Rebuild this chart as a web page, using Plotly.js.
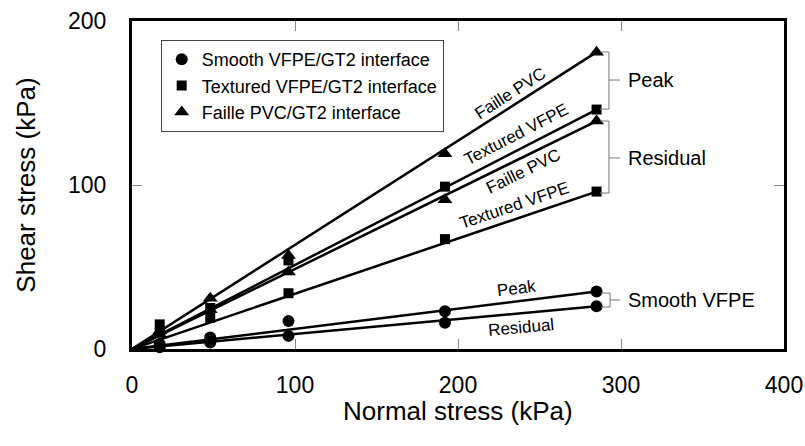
<!DOCTYPE html>
<html>
<head>
<meta charset="utf-8">
<script src="https://cdn.plot.ly/plotly-3.0.1.min.js"></script>
<style>html,body{margin:0;padding:0;background:#fff;}#chart{width:805px;height:446px;}</style>
</head>
<body>
<div id="chart"></div>
<script>
// Normal stress (kPa) of the test points
const normalStress = [17, 48, 96, 192, 285];

// Shear stress (kPa)
const smoothPeak      = [3, 7, 17, 23, 35];
const smoothResidual  = [1, 4, 8, 16, 26];
const texturedPeak    = [15, 25, 54, 99, 146];
const texturedResidual= [10, 19, 34, 67, 96];
const faillePeak      = [11, 31, 57, 119, 181];
const failleResidual  = [9, 24, 47, 91, 139];

// Fitted lines through the origin: end points
const fitX = [0, 285];
const fitSmoothPeak = [0, 35];
const fitSmoothResidual = [0, 26];
const fitTexturedPeak = [0, 146];
const fitTexturedResidual = [0, 96];
const fitFaillePeak = [0, 181];
const fitFailleResidual = [0, 139];

const legendNames = ["Smooth VFPE/GT2 interface", "Textured VFPE/GT2 interface", "Faille PVC/GT2 interface"];
const xTicks = [0, 100, 200, 300, 400];
const yTicks = [0, 100, 200];
const xTitle = "Normal stress (kPa)";
const yTitle = "Shear stress (kPa)";

const lineStyle = {color: "#000", width: 2.5};
const traces = [];
[fitSmoothPeak, fitSmoothResidual, fitTexturedPeak, fitTexturedResidual, fitFaillePeak, fitFailleResidual].forEach(function (ys) {
  traces.push({x: fitX, y: ys, mode: "lines", line: lineStyle, showlegend: false, hoverinfo: "skip", cliponaxis: false});
});

function pts(ys, symbol, size, name, show, group) {
  return {x: normalStress, y: ys, mode: "markers", name: name, legendgroup: group, showlegend: show,
    marker: {symbol: symbol, size: size, color: "#000"}, cliponaxis: false};
}
traces.push(pts(smoothPeak, "circle", 12, legendNames[0], true, "s"));
traces.push(pts(smoothResidual, "circle", 12, legendNames[0], false, "s"));
traces.push(pts(texturedPeak, "square", 10, legendNames[1], true, "t"));
traces.push(pts(texturedResidual, "square", 10, legendNames[1], false, "t"));
traces.push(pts(faillePeak, "triangle-up", 13, legendNames[2], true, "f"));
traces.push(pts(failleResidual, "triangle-up", 13, legendNames[2], false, "f"));

const lblFont = {family: "Liberation Sans, Arial, sans-serif", size: 17, color: "#000"};
const sideFont = {family: "Liberation Sans, Arial, sans-serif", size: 20, color: "#000"};
function onLine(text, x, y, ang) {
  return {text: text, x: x, y: y, xref: "x", yref: "y", showarrow: false, textangle: ang, font: lblFont};
}
function side(text, x, y) {
  return {text: text, x: x, y: y, xref: "x", yref: "y", showarrow: false, xanchor: "left", font: sideFont};
}
const tickFont = {family: "Liberation Sans, Arial, sans-serif", size: 23, color: "#000"};
const titleFont = {family: "Liberation Sans, Arial, sans-serif", size: 26, color: "#000"};

const annotations = [
  onLine("Faille PVC", 231.9, 156, -32.6),
  onLine("Textured VFPE", 235.6, 131, -27.3),
  onLine("Faille PVC", 239.9, 108.5, -26.1),
  onLine("Textured VFPE", 234.4, 87.8, -18.7),
  onLine("Peak", 235.6, 36.6, -7),
  onLine("Residual", 238.7, 13.4, -5.2),
  side("Peak", 303, 164),
  side("Residual", 303, 116.5),
  side("Smooth VFPE", 303, 29.9),
  {text: xTitle, xref: "paper", yref: "paper", x: 0.5, y: -0.19, xanchor: "center", yanchor: "middle", showarrow: false, font: titleFont}
];

const brk = {color: "#777", width: 1};
const shapes = [
  {type: "path", xref: "x", yref: "y", line: brk, path: "M 287.1,181.1 L 292.6,181.1 L 292.6,146.3 L 287.1,146.3 M 292.6,164 L 299.4,164"},
  {type: "path", xref: "x", yref: "y", line: brk, path: "M 287.1,139 L 292.6,139 L 292.6,95.1 L 287.1,95.1 M 292.6,116.5 L 299.4,116.5"},
  {type: "path", xref: "x", yref: "y", line: brk, path: "M 287.7,34.1 L 293.3,34.1 L 293.3,25.6 L 287.7,25.6 M 293.3,29.9 L 299.4,29.9"}
];

const layout = {
  width: 805, height: 446,
  margin: {l: 132, r: 21, t: 21, b: 97},
  paper_bgcolor: "#fff", plot_bgcolor: "#fff",
  font: {family: "Liberation Sans, Arial, sans-serif", color: "#000"},
  xaxis: {range: [0, 400], tickvals: xTicks, ticktext: xTicks.map(String), showgrid: false, zeroline: false,
    showline: true, linecolor: "#000", linewidth: 3, mirror: "ticks",
    ticks: "inside", ticklen: 10, tickwidth: 1, tickcolor: "#888",
    tickfont: tickFont, ticklabelstandoff: 13, automargin: false, fixedrange: true},
  yaxis: {range: [0, 200], tickvals: yTicks, ticktext: yTicks.map(String), showgrid: false, zeroline: false,
    showline: true, linecolor: "#000", linewidth: 3, mirror: "ticks",
    ticks: "inside", ticklen: 10, tickwidth: 1, tickcolor: "#888",
    tickfont: tickFont, ticklabelstandoff: 18,
    title: {text: yTitle, font: titleFont, standoff: 25}, automargin: false, fixedrange: true},
  legend: {x: 0.044, y: 0.942, xanchor: "left", yanchor: "top", bgcolor: "#fff", bordercolor: "#444", borderwidth: 1,
    font: {family: "Liberation Sans, Arial, sans-serif", size: 18, color: "#000"}, tracegroupgap: 0, itemclick: false},
  showlegend: true,
  annotations: annotations,
  shapes: shapes
};

Plotly.newPlot("chart", traces, layout, {staticPlot: true, displayModeBar: false});
</script>
</body>
</html>
